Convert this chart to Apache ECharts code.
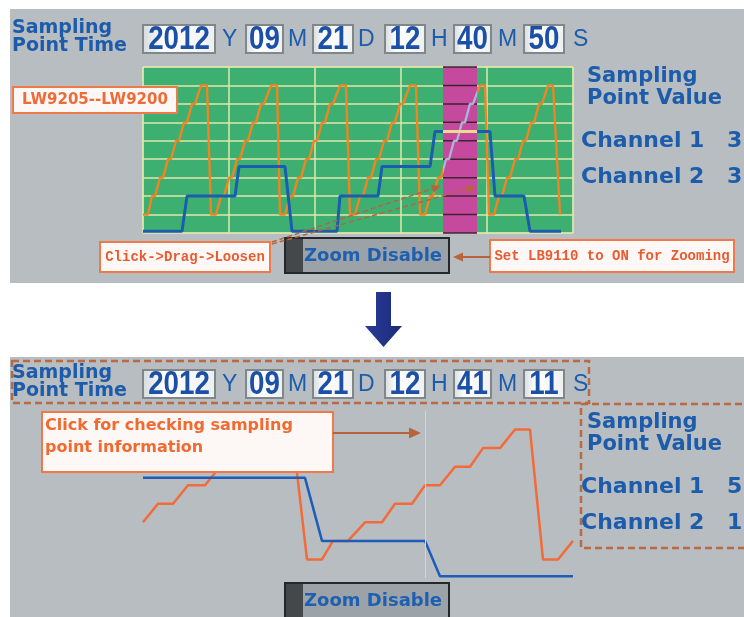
<!DOCTYPE html>
<html>
<head>
<meta charset="utf-8">
<style>
html,body{margin:0;padding:0;background:#fff;}
#main{width:744px;height:617px;}
</style>
<script src="https://cdn.jsdelivr.net/npm/echarts@6/dist/echarts.min.js"></script>
</head>
<body>
<div id="main"></div>
<script>
// trend samples: [x across the window, channel value]
var topOrange = [
  [0,1],[5,1],[9,2],[12,2],[17,3],[20,3],[25,4],[28,4],[33,5],[36,5],[41,6],[44,6],[49,7],[52,7],[58,8],[64,8],[68,1],
  [73,1],[78,2],[81,2],[86,3],[89,3],[94,4],[97,4],[102,5],[105,5],[110,6],[113,6],[118,7],[121,7],[128,8],[134,8],[137,1],
  [142,1],[147,2],[150,2],[155,3],[158,3],[163,4],[166,4],[171,5],[174,5],[179,6],[182,6],[187,7],[190,7],[197,8],[203,8],[207,1],
  [212,1],[217,2],[220,2],[225,3],[228,3],[233,4],[236,4],[241,5],[244,5],[249,6],[252,6],[257,7],[260,7],[267,8],[273,8],[277,1],
  [282,1],[287,2],[290,2],[295,3],[298,3],[303,4],[306,4],[311,5],[314,5],[319,6],[322,6],[327,7],[330,7],[337,8],[342,8],[346,1],
  [351,1],[356,2],[359,2],[364,3],[367,3],[372,4],[375,4],[380,5],[383,5],[388,6],[391,6],[396,7],[399,7],[405,8],[410,8],[417,1]
];
var topBlue = [
  [0,0.1],[39,0.1],[44,2],[92,2],[96,3.6],[142,3.6],[149,0.1],[194,0.1],[197,2],[235,2],
  [239,3.6],[287,3.6],[292,5.5],[347,5.5],[352,2],[381,2],[387,0.1],[418,0.1]
];
var bottomOrange = [
  [0,3],[15,4],[30,4],[45,5],[62,5],[77,6],[92,6],[107,7],[122,7],[137,8],[149,8],[164,1],[179,1],
  [190,2],[205,2],[222,3],[239,3],[252,4],[269,4],[282,5],[297,5],[312,6],[327,6],[340,7],[357,7],
  [372,8],[387,8],[400,1],[415,1],[430,2]
];
var bottomBlue = [[0,5.4],[162,5.4],[179,2],[282,2],[297,0.1],[430,0.1]];
var zoomBand = [300, 334];
var cursorX = 282;

var timeUnits = ['Y','M','D','H','M','S'];
var timeTop = ['2012','09','21','12','40','50'];
var timeBottom = ['2012','09','21','12','41','11'];
var channelNames = ['Channel 1','Channel 2'];
var channelsTop = [3, 3];
var channelsBottom = [5, 1];

var chart = echarts.init(document.getElementById('main'));

var blueText = '#1d5cab';
var noteRed = '#ee6a36';
var noteLine = '#b9633c';
var panelGray = '#b7bdc1';

function txt(x, y, s, font, color, align) {
  return {type:'text', x:x, y:y, z:30, silent:true,
    style:{text:s, font:font, fill:color, align:align || 'left', verticalAlign:'middle'}};
}

function arrowHead(tx, ty, dx, dy, size, color) {
  var bx = tx - dx*size, by = ty - dy*size;
  var px = -dy*size*0.45, py = dx*size*0.45;
  return {type:'polygon', z:31, silent:true, shape:{points:[[tx,ty],[bx+px,by+py],[bx-px,by-py]]}, style:{fill:color}};
}

function noteBox(x, y, w, h) {
  return {type:'rect', z:28, silent:true, shape:{x:x,y:y,width:w,height:h},
    style:{fill:'#fdf8f5', stroke:'#ef7a48', lineWidth:2}};
}

function header(values, channels, dy, dyr) {
  var boxes = [[143,72],[246,37],[313,40],[385,40],[454,37],[524,40]];
  var unitX = [222,288,358,431,498,573];
  var els = [];
  els.push(txt(12, 28+dy, 'Sampling', 'bold 19px "DejaVu Sans"', blueText));
  els.push(txt(12, 46+dy, 'Point Time', 'bold 19px "DejaVu Sans"', blueText));
  values.forEach(function (v, i) {
    var b = boxes[i];
    els.push({type:'rect', z:28, silent:true, shape:{x:b[0], y:25+dy, width:b[1], height:28},
      style:{fill:new echarts.graphic.LinearGradient(0,0,1,0,[
        {offset:0,color:'#d6dadc'},{offset:0.3,color:'#ffffff'},{offset:1,color:'#eef0f0'}]),
        stroke:'#80878b', lineWidth:2}});
    var num = txt(b[0]+b[1]/2, 40+dy, v, 'bold 33px "Liberation Sans"', '#1c4fa6', 'center');
    num.scaleX = 0.84;
    els.push(num);
    els.push(txt(unitX[i], 40+dy, timeUnits[i], '23px "Liberation Sans"', blueText));
  });
  els.push(txt(587, 77+dyr, 'Sampling', 'bold 21px "DejaVu Sans"', blueText));
  els.push(txt(587, 99+dyr, 'Point Value', 'bold 21px "DejaVu Sans"', blueText));
  channels.forEach(function (c, i) {
    els.push(txt(581, 141+36*i+dyr, channelNames[i], 'bold 22px "DejaVu Sans"', blueText));
    els.push(txt(727, 141+36*i+dyr, String(c), 'bold 22px "DejaVu Sans"', blueText));
  });
  return els;
}

function zoomButton(y, h) {
  return [
    {type:'rect', z:28, silent:true, shape:{x:285,y:y,width:164,height:h}, style:{fill:'#9ba3a8', stroke:'#25282a', lineWidth:2}},
    {type:'rect', z:29, silent:true, shape:{x:286,y:y+1,width:17,height:h-2}, style:{fill:'#44484b'}},
    txt(304, y+18, 'Zoom Disable', 'bold 18px "DejaVu Sans"', '#1f5fb2')
  ];
}

var graphics = [
  {type:'rect', z:-10, silent:true, shape:{x:10,y:9,width:734,height:274}, style:{fill:panelGray}},
  {type:'rect', z:-10, silent:true, shape:{x:10,y:357,width:734,height:260}, style:{fill:panelGray}},
  // down arrow between the panels
  {type:'polygon', z:30, silent:true,
    shape:{points:[[376,292],[391,292],[391,326],[402,326],[383.5,347],[365,326],[376,326]]},
    style:{fill:new echarts.graphic.LinearGradient(0,0,1,0,[{offset:0,color:'#2a3c98'},{offset:1,color:'#1b2a78'}])}}
];
graphics = graphics.concat(header(timeTop, channelsTop, 0, 0));
graphics = graphics.concat(header(timeBottom, channelsBottom, 345, 346));
graphics = graphics.concat(zoomButton(238, 35), zoomButton(583, 40));

// top panel notes
graphics.push(noteBox(13, 87, 164, 26));
graphics.push(txt(95, 100, 'LW9205--LW9200', 'bold 15px "DejaVu Sans"', noteRed, 'center'));
graphics.push(noteBox(100, 242, 170, 30));
graphics.push(txt(185, 257, 'Click->Drag->Loosen', 'bold 14px "Liberation Mono"', '#e85a30', 'center'));
graphics.push(noteBox(490, 240, 244, 32));
graphics.push(txt(612, 256, 'Set LB9110 to ON for Zooming', 'bold 14px "Liberation Mono"', '#e85a30', 'center'));
graphics.push({type:'line', z:31, silent:true, shape:{x1:272,y1:242,x2:436,y2:187.5}, style:{stroke:noteLine, lineWidth:1.5, lineDash:[5,3]}});
graphics.push(arrowHead(441, 186, 0.95, -0.32, 9, noteLine));
graphics.push({type:'line', z:31, silent:true, shape:{x1:272,y1:244,x2:469,y2:188.5}, style:{stroke:noteLine, lineWidth:1.5, lineDash:[5,3]}});
graphics.push(arrowHead(476, 187, 0.96, -0.27, 9, noteLine));
graphics.push({type:'line', z:31, silent:true, shape:{x1:490,y1:257,x2:462,y2:257}, style:{stroke:noteLine, lineWidth:2}});
graphics.push(arrowHead(453, 257, -1, 0, 10, noteLine));

// bottom panel notes
graphics.push({type:'rect', z:27, silent:true, shape:{x:12,y:361,width:577,height:42}, style:{fill:null, stroke:'#b96a44', lineWidth:2.5, lineDash:[7,4]}});
graphics.push({type:'rect', z:27, silent:true, shape:{x:581,y:404,width:175,height:144}, style:{fill:null, stroke:'#b96a44', lineWidth:2.5, lineDash:[7,4]}});
graphics.push(noteBox(42, 412, 291, 60));
graphics.push(txt(45, 426, 'Click for checking sampling', 'bold 16px "DejaVu Sans"', '#f06a32'));
graphics.push(txt(45, 448, 'point information', 'bold 16px "DejaVu Sans"', '#f06a32'));
graphics.push({type:'line', z:31, silent:true, shape:{x1:333,y1:433,x2:410,y2:433}, style:{stroke:noteLine, lineWidth:2}});
graphics.push(arrowHead(421, 433, 1, 0, 12, noteLine));

var hidden = {show:false};

chart.setOption({
  backgroundColor:'#ffffff',
  animation:false,
  grid:[
    {left:143, top:67, width:430, height:166, show:true, backgroundColor:'#3db071', borderColor:'#dde8ae', borderWidth:1},
    {left:143, top:411, width:430, height:167, show:false}
  ],
  xAxis:[
    {gridIndex:0, type:'value', min:0, max:430, interval:86, axisLine:hidden, axisTick:hidden, axisLabel:hidden,
      splitLine:{show:true, lineStyle:{color:'#dfe9ac', width:1.5}}},
    {gridIndex:1, type:'value', min:0, max:430, axisLine:hidden, axisTick:hidden, axisLabel:hidden, splitLine:hidden}
  ],
  yAxis:[
    {gridIndex:0, type:'value', min:0, max:9, interval:1, axisLine:hidden, axisTick:hidden, axisLabel:hidden,
      splitLine:{show:true, lineStyle:{color:'#dfe9ac', width:1.5}}},
    {gridIndex:1, type:'value', min:0, max:9, axisLine:hidden, axisTick:hidden, axisLabel:hidden, splitLine:hidden}
  ],
  visualMap:[
    {type:'piecewise', show:false, seriesIndex:1, dimension:0,
      pieces:[{lt:zoomBand[0], color:'#f5821f'},{gte:zoomBand[0], lte:zoomBand[1], color:'#aab6d8'},{gt:zoomBand[1], color:'#f5821f'}]},
    {type:'piecewise', show:false, seriesIndex:2, dimension:0,
      pieces:[{lt:zoomBand[0], color:'#1b5cb0'},{gte:zoomBand[0], lte:zoomBand[1], color:'#eadb8e'},{gt:zoomBand[1], color:'#1b5cb0'}]}
  ],
  graphic:{elements:graphics},
  series:[
    {type:'custom', xAxisIndex:0, yAxisIndex:0, z:1, silent:true, data:[zoomBand], encode:{x:[0,1]},
      renderItem:function (params, api) {
        var x0 = api.value(0), x1 = api.value(1);
        var a = api.coord([x0, 9]), b = api.coord([x1, 0]);
        var kids = [{type:'rect', shape:{x:a[0], y:a[1], width:b[0]-a[0], height:b[1]-a[1]}, style:{fill:'#c5499d'}}];
        for (var v = 0; v <= 9; v++) {
          var p = api.coord([x0, v]), q = api.coord([x1, v]);
          kids.push({type:'line', shape:{x1:p[0], y1:p[1], x2:q[0], y2:q[1]}, style:{stroke:'#3f2436', lineWidth:1.5}});
        }
        return {type:'group', children:kids};
      }},
    {type:'line', xAxisIndex:0, yAxisIndex:0, z:3, data:topOrange, symbol:'none', lineStyle:{width:2.3}},
    {type:'line', xAxisIndex:0, yAxisIndex:0, z:4, data:topBlue, symbol:'none', lineStyle:{width:3}},
    {type:'line', xAxisIndex:1, yAxisIndex:1, z:4, data:bottomBlue, symbol:'none', lineStyle:{width:2.5, color:'#1c5db8'}},
    {type:'line', xAxisIndex:1, yAxisIndex:1, z:3, data:bottomOrange, symbol:'none', lineStyle:{width:2.5, color:'#f26b38'},
      markLine:{silent:true, symbol:'none', label:hidden, lineStyle:{color:'#d2d6d8', width:1, type:'solid'}, data:[{xAxis:cursorX}]}}
  ]
});
</script>
</body>
</html>
